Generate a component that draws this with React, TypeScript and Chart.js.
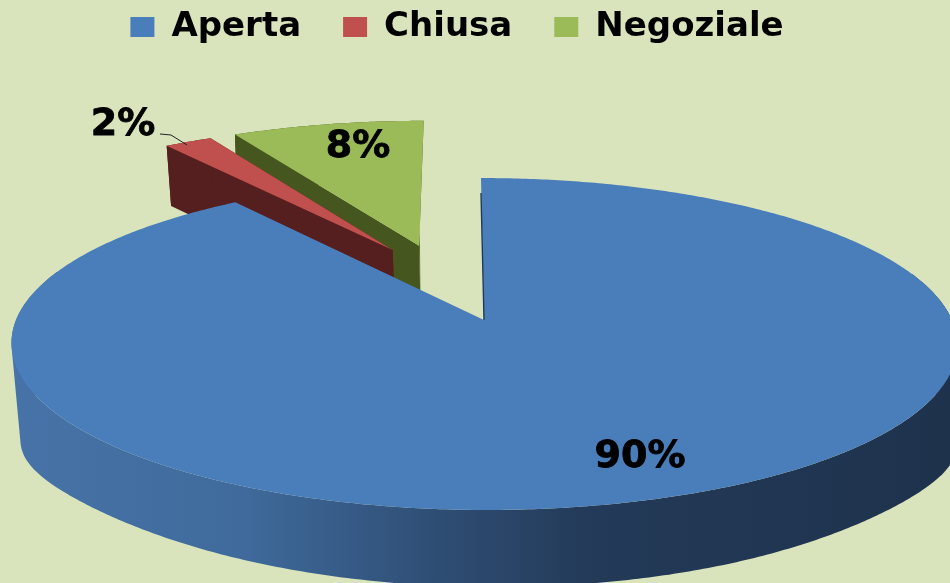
import React, { useEffect, useRef } from "react";
import { Chart, registerables } from "chart.js";

Chart.register(...registerables);

const categories = ["Aperta", "Chiusa", "Negoziale"];
const shares = [90, 2, 8];
const topColors = ["#4a7ebb", "#c0504d", "#9bbb59"];
const wallColors = ["#2f4b70", "#551f1f", "#46561f"];
const explodeU = [0, -0.205, -0.145];
const explodeV = [0, -0.459, -0.49];
const labelX = [640, 123, 358];
const labelY = [457, 125, 147];
const PAGE_BG = "#d9e4bc";
const FONT = '"DejaVu Sans", sans-serif';

type Pt = [number, number];

const top3d = (u: number, v: number): Pt => {
  const d = 1 - 0.1446 * v;
  return [484 + 3 * v + (468 * u) / d, 320 + (162.5 * v) / d];
};
const bottom3d = (u: number, v: number): Pt => {
  const d = 1 - 0.16 * v;
  const bulge = 32 * Math.pow(u, 8) * Math.max(0, Math.min(1, (v + 0.7) / 0.5));
  return [487 + 9 * v + (462 * u) / d, 385 + (169.7 * v) / d + bulge];
};

const arcPoints = (start: number, end: number, du: number, dv: number) => {
  const n = Math.max(2, Math.ceil((end - start) / 0.01));
  const pts: Pt[] = [];
  for (let i = 0; i <= n; i++) {
    const a = start + ((end - start) * i) / n;
    pts.push([du + Math.cos(a), dv + Math.sin(a)]);
  }
  return pts;
};

const tracePoly = (ctx: CanvasRenderingContext2D, pts: Pt[]) => {
  let area = 0;
  pts.forEach((p, i) => {
    const q = pts[(i + 1) % pts.length];
    area += p[0] * q[1] - q[0] * p[1];
  });
  const list = area < 0 ? pts.slice().reverse() : pts;
  list.forEach((p, i) => (i ? ctx.lineTo(p[0], p[1]) : ctx.moveTo(p[0], p[1])));
  ctx.closePath();
};

const fillPoly = (ctx: CanvasRenderingContext2D, pts: Pt[], fill: string | CanvasGradient) => {
  ctx.beginPath();
  tracePoly(ctx, pts);
  ctx.fillStyle = fill;
  ctx.fill();
};

const pie3d = {
  id: "pie3d",
  beforeDraw(chart: any) {
    const { ctx, width, height } = chart;
    ctx.save();
    ctx.fillStyle = PAGE_BG;
    ctx.fillRect(0, 0, width, height);
    ctx.restore();
  },
  afterLayout(chart: any) {
    const legend = chart.legend;
    legend.top = -32;
    legend.left -= 18;
    legend.right -= 18;
  },
  beforeDatasetDraw(chart: any, args: any) {
    const ctx: CanvasRenderingContext2D = chart.ctx;
    const meta = chart.getDatasetMeta(args.index);
    const order = [2, 1, 0];
    ctx.save();
    for (const i of order) {
      const el = meta.data[i];
      const du = explodeU[i];
      const dv = explodeV[i];
      const rim = arcPoints(el.startAngle, el.endAngle, du, dv);
      const first = rim[0];
      const last = rim[rim.length - 1];
      let wallFill: string | CanvasGradient = wallColors[i];
      if (i === 0) {
        const g = ctx.createLinearGradient(10, 0, 950, 0);
        g.addColorStop(0, "#4873a8");
        g.addColorStop(0.25, "#3f6a9b");
        g.addColorStop(0.45, "#2f4e75");
        g.addColorStop(0.62, "#233a58");
        g.addColorStop(1, "#1e324c");
        wallFill = g;
      } else {
        fillPoly(ctx, [top3d(du, dv), top3d(first[0], first[1]), bottom3d(first[0], first[1]), bottom3d(du, dv)], wallColors[i]);
        fillPoly(ctx, [top3d(du, dv), top3d(last[0], last[1]), bottom3d(last[0], last[1]), bottom3d(du, dv)], wallColors[i]);
      }
      // outer wall: a union of small quads so the extruded silhouette stays filled
      ctx.beginPath();
      for (let k = 0; k < rim.length - 1; k++) {
        const p = rim[k];
        const q = rim[k + 1];
        if (i === 0 && p[1] < -0.3) continue; // the far rim of the big slice is hidden
        tracePoly(ctx, [top3d(p[0], p[1]), top3d(q[0], q[1]), bottom3d(q[0], q[1]), bottom3d(p[0], p[1])]);
      }
      ctx.fillStyle = wallFill;
      ctx.fill();
      // top face
      fillPoly(ctx, [top3d(du, dv), ...rim.map((p) => top3d(p[0], p[1]))], topColors[i]);
      if (i === 0) {
        ctx.beginPath();
        const a = top3d(0, 0);
        const b = top3d(first[0], first[1]);
        ctx.moveTo(a[0], a[1]);
        ctx.lineTo(b[0], b[1] + 15);
        ctx.strokeStyle = "#1f3a5c";
        ctx.lineWidth = 1.4;
        ctx.stroke();
      }
    }
    // percentage labels
    const total = shares.reduce((s, v) => s + v, 0);
    ctx.fillStyle = "#000000";
    ctx.strokeStyle = "#000000";
    ctx.lineWidth = 0.8;
    ctx.font = `bold 38px ${FONT}`;
    ctx.textAlign = "center";
    ctx.textBaseline = "middle";
    shares.forEach((v, i) => {
      const t = `${Math.round((v / total) * 100)}%`;
      ctx.fillText(t, labelX[i], labelY[i]);
      ctx.strokeText(t, labelX[i], labelY[i]);
    });
    // leader line for the small slice
    ctx.beginPath();
    ctx.moveTo(160, 134);
    ctx.lineTo(171, 135);
    ctx.lineTo(187, 145);
    ctx.strokeStyle = "#222222";
    ctx.lineWidth = 1;
    ctx.stroke();
    ctx.restore();
    return false;
  },
};

export default function App() {
  const ref = useRef<HTMLCanvasElement | null>(null);
  useEffect(() => {
    if (!ref.current) return;
    const chart = new Chart(ref.current, {
      type: "pie",
      data: {
        labels: categories,
        datasets: [{ data: shares, backgroundColor: topColors, borderWidth: 0 }],
      },
      options: {
        responsive: false,
        animation: false,
        layout: { padding: 0 },
        plugins: {
          tooltip: { enabled: false },
          legend: {
            position: "top",
            labels: {
              boxWidth: 24,
              boxHeight: 20,
              padding: 42,
              color: "#000000",
              font: { family: FONT, size: 34, weight: "bold" },
            },
          },
        },
      },
      plugins: [pie3d],
    } as any);
    return () => chart.destroy();
  }, []);
  return (
    <div style={{ position: "fixed", left: 0, top: 0, width: 950, height: 583, overflow: "hidden" }}>
      <canvas ref={ref} width={950} height={583} style={{ display: "block" }} />
    </div>
  );
}
